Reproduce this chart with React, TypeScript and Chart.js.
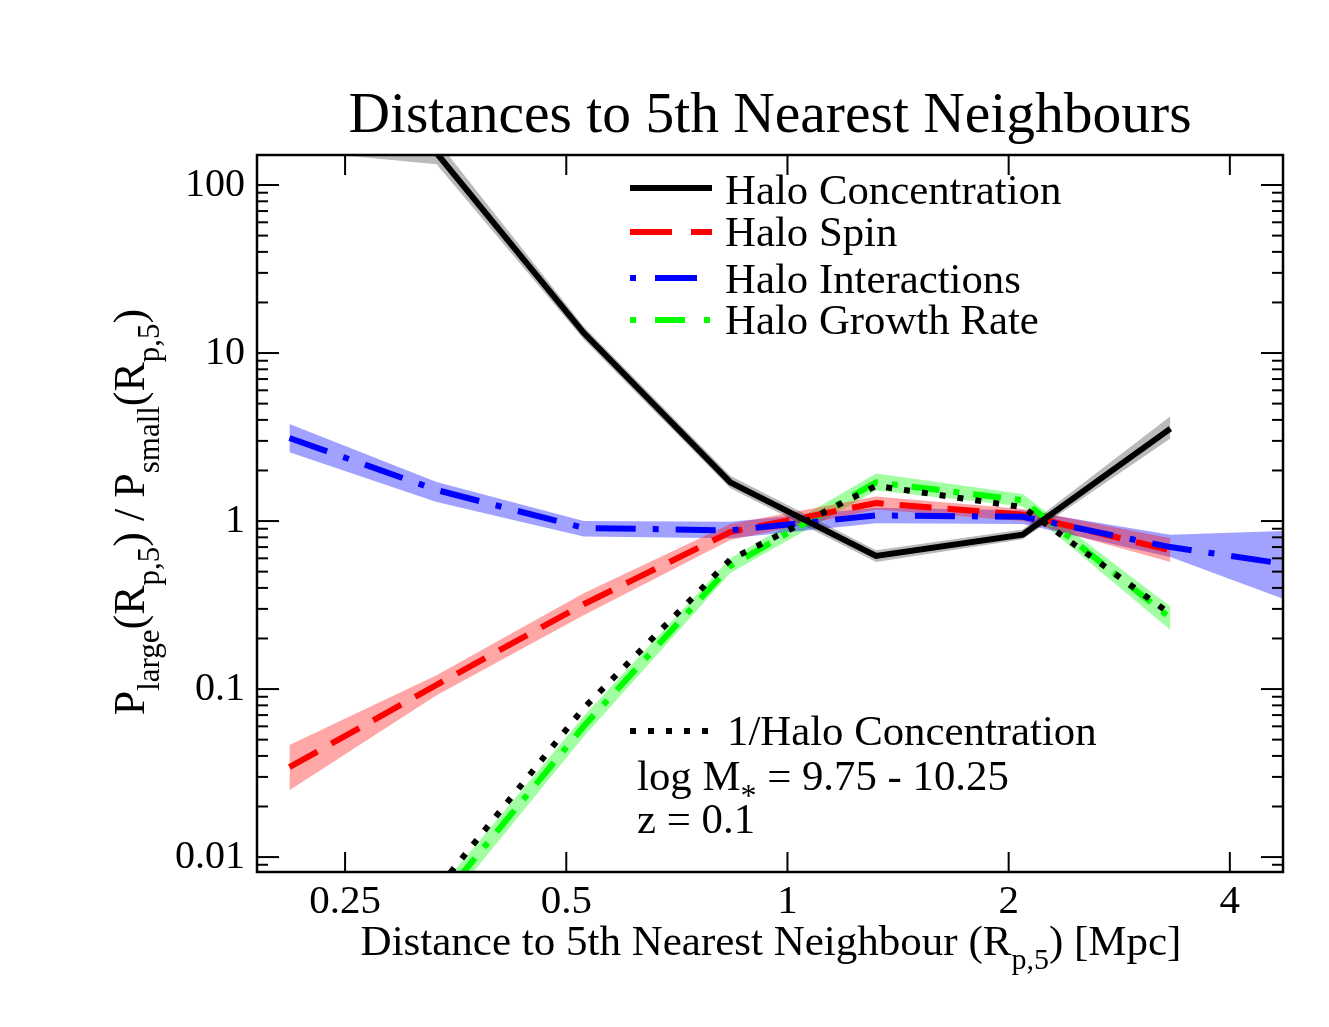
import React, { useEffect, useRef } from 'react';
import { Chart, registerables } from 'chart.js';

Chart.register(...registerables);

// x positions of the bins (Mpc)
const xValues = [0.21, 0.333, 0.528, 0.836, 1.32, 2.09, 3.32, 5.26];

// Halo Concentration (black) with its band
const concLine = [350, 155, 13.2, 1.7, 0.62, 0.83, 3.55];
const concUpper = [500, 185, 14.4, 1.86, 0.67, 0.89, 4.2];
const concLower = [161, 133, 12.1, 1.57, 0.57, 0.78, 3.1];

// Halo Spin (red)
const spinLine = [0.0343, 0.106, 0.32, 0.86, 1.28, 1.09, 0.67];
const spinUpper = [0.0465, 0.121, 0.372, 0.96, 1.4, 1.18, 0.79];
const spinLower = [0.025, 0.092, 0.275, 0.77, 1.17, 1.0, 0.57];

// Halo Interactions (blue)
const interLine = [3.12, 1.53, 0.91, 0.88, 1.08, 1.06, 0.7, 0.52];
const interUpper = [3.78, 1.71, 1.0, 0.99, 1.2, 1.16, 0.83, 0.885];
const interLower = [2.57, 1.3, 0.81, 0.79, 0.97, 0.96, 0.61, 0.29];

// Halo Growth Rate (green)
const growthLine = [0.0006, 0.0052, 0.06, 0.54, 1.7, 1.33, 0.265];
const growthUpper = [0.0008, 0.0062, 0.069, 0.6, 1.92, 1.45, 0.31];
const growthLower = [0.0004, 0.0044, 0.052, 0.49, 1.52, 1.22, 0.225];

// 1/Halo Concentration (black dotted)
const invConcLine = [0.0029, 0.0064, 0.077, 0.59, 1.62, 1.21, 0.28];

const xTicks = [0.25, 0.5, 1, 2, 4];
const yTicks = [0.01, 0.1, 1, 10, 100];

const SERIF = "'Liberation Serif', 'Times New Roman', serif";

function pts(ys: number[]) {
  return ys.map((y, i) => ({ x: xValues[i], y }));
}

type Part = { t: string; sub?: boolean };

// draws text with subscripts, centred on x
function richText(ctx: any, parts: Part[], x: number, y: number, size: number, subSize: number, subDrop: number, align = 'center') {
  let total = 0;
  const widths = parts.map((p) => {
    ctx.font = `${p.sub ? subSize : size}px ${SERIF}`;
    const w = ctx.measureText(p.t).width;
    total += w;
    return w;
  });
  let cx = align === 'center' ? x - total / 2 : x;
  ctx.textAlign = 'left';
  ctx.textBaseline = 'alphabetic';
  parts.forEach((p, i) => {
    ctx.font = `${p.sub ? subSize : size}px ${SERIF}`;
    ctx.fillText(p.t, cx, p.sub ? y + subDrop : y);
    cx += widths[i];
  });
}

function sample(ctx: any, y: number, color: string, dash: number[]) {
  ctx.save();
  ctx.strokeStyle = color;
  ctx.lineWidth = 6;
  ctx.lineCap = 'butt';
  ctx.setLineDash(dash);
  ctx.beginPath();
  ctx.moveTo(630, y);
  ctx.lineTo(712, y);
  ctx.stroke();
  ctx.restore();
}

const framePlugin = {
  id: 'frameTicks',
  afterDraw(chart: any) {
    const { ctx, chartArea: a, scales } = chart;
    ctx.save();
    ctx.strokeStyle = '#000';
    ctx.lineWidth = 2;
    const seg = (x1: number, y1: number, x2: number, y2: number) => {
      ctx.beginPath();
      ctx.moveTo(x1, y1);
      ctx.lineTo(x2, y2);
      ctx.stroke();
    };
    for (const v of xTicks) {
      const px = scales.x.getPixelForValue(v);
      seg(px, a.bottom, px, a.bottom - 20);
      seg(px, a.top, px, a.top + 20);
    }
    const yMin = scales.y.min;
    const yMax = scales.y.max;
    for (let d = 0.001; d <= 100; d *= 10) {
      for (let m = 1; m <= 9; m++) {
        const v = m * d;
        if (v < yMin || v > yMax) continue;
        const py = scales.y.getPixelForValue(v);
        const len = m === 1 ? 22 : 11;
        seg(a.left, py, a.left + len, py);
        seg(a.right, py, a.right - len, py);
      }
    }
    ctx.lineWidth = 2.5;
    ctx.strokeRect(a.left, a.top, a.right - a.left, a.bottom - a.top);
    ctx.restore();
  },
};

const textPlugin = {
  id: 'texts',
  afterDraw(chart: any) {
    const { ctx } = chart;
    ctx.save();
    ctx.fillStyle = '#000';

    // title
    ctx.font = `57.5px ${SERIF}`;
    ctx.textAlign = 'center';
    ctx.textBaseline = 'alphabetic';
    ctx.fillText('Distances to 5th Nearest Neighbours', 770, 132);

    // x axis title
    richText(ctx, [
      { t: 'Distance to 5th Nearest Neighbour (R' },
      { t: 'p,5', sub: true },
      { t: ') [Mpc]' },
    ], 771, 955, 43, 30, 14);

    // y axis title
    ctx.save();
    ctx.translate(144, 512);
    ctx.rotate(-Math.PI / 2);
    richText(ctx, [
      { t: 'P' },
      { t: 'large', sub: true },
      { t: '(R' },
      { t: 'p,5', sub: true },
      { t: ') / P' },
      { t: 'small', sub: true },
      { t: '(R' },
      { t: 'p,5', sub: true },
      { t: ')' },
    ], 0, 0, 44, 31, 15);
    ctx.restore();

    // legend
    sample(ctx, 188, '#000', []);
    sample(ctx, 232, '#ff0000', [42, 19]);
    sample(ctx, 278, '#0000ff', [6, 19, 42, 19]);
    sample(ctx, 320, '#00ff00', [6, 19, 30, 19]);
    ctx.font = `42.8px ${SERIF}`;
    ctx.textAlign = 'left';
    ctx.fillText('Halo Concentration', 725, 204);
    ctx.fillText('Halo Spin', 725, 246);
    ctx.fillText('Halo Interactions', 725, 293);
    ctx.fillText('Halo Growth Rate', 725, 334);

    // inverse concentration key and sample info
    sample(ctx, 731, '#000', [6, 12]);
    ctx.font = `42.8px ${SERIF}`;
    ctx.fillText('1/Halo Concentration', 727, 745);
    richText(ctx, [
      { t: 'log M' },
      { t: '*', sub: true },
      { t: ' = 9.75 - 10.25' },
    ], 637, 790, 42.8, 32, 16, 'left');
    ctx.font = `42.8px ${SERIF}`;
    ctx.fillText('z = 0.1', 637, 833);
    ctx.restore();
  },
};

export default function App() {
  const canvasRef = useRef<HTMLCanvasElement>(null);

  useEffect(() => {
    document.body.style.margin = '0';
    if (!canvasRef.current) return;

    const line = (data: number[], color: string, dash: number[], order: number) => ({
      data: pts(data),
      borderColor: color,
      borderWidth: 6,
      borderDash: dash,
      borderCapStyle: 'butt',
      pointRadius: 0,
      fill: false,
      clip: 0,
      order,
    });
    const bandTop = (data: number[], color: string) => ({
      data: pts(data),
      borderWidth: 0,
      pointRadius: 0,
      backgroundColor: color,
      fill: '+1',
      clip: 0,
      order: 20,
    });
    const bandBottom = (data: number[]) => ({
      data: pts(data),
      borderWidth: 0,
      pointRadius: 0,
      fill: false,
      clip: 0,
      order: 20,
    });

    const chart = new Chart(canvasRef.current, {
      type: 'line',
      data: {
        datasets: [
          line(invConcLine, '#000000', [6, 12], 1),
          line(concLine, '#000000', [], 2),
          line(interLine, '#0000ff', [40, 17, 6, 17], 3),
          line(spinLine, '#ff0000', [32, 16], 4),
          line(growthLine, '#00ff00', [28, 14, 6, 14], 5),
          bandTop(concUpper, 'rgba(0,0,0,0.27)'),
          bandBottom(concLower),
          bandTop(spinUpper, 'rgba(255,0,0,0.35)'),
          bandBottom(spinLower),
          bandTop(interUpper, 'rgba(0,0,255,0.37)'),
          bandBottom(interLower),
          bandTop(growthUpper, 'rgba(0,255,0,0.37)'),
          bandBottom(growthLower),
        ] as any,
      },
      options: {
        animation: false,
        responsive: false,
        devicePixelRatio: 1,
        layout: { padding: { top: 155, right: 46, left: 0, bottom: 0 } },
        plugins: {
          legend: { display: false },
          tooltip: { enabled: false },
          title: { display: false },
        },
        scales: {
          x: {
            type: 'logarithmic',
            min: 0.1897,
            max: 4.725,
            border: { display: false },
            grid: { display: false, drawTicks: false },
            afterBuildTicks: (scale: any) => {
              scale.ticks = xTicks.map((v) => ({ value: v }));
            },
            afterFit: (scale: any) => {
              scale.height = 155;
            },
            ticks: {
              autoSkip: false,
              maxRotation: 0,
              padding: 6,
              color: '#000',
              font: { family: SERIF, size: 41 },
              callback: (v: any) => String(v),
            },
          },
          y: {
            type: 'logarithmic',
            min: 0.00815,
            max: 150.9,
            border: { display: false },
            grid: { display: false, drawTicks: false },
            afterBuildTicks: (scale: any) => {
              scale.ticks = yTicks.map((v) => ({ value: v }));
            },
            afterFit: (scale: any) => {
              scale.width = 257;
            },
            ticks: {
              autoSkip: false,
              padding: 12,
              color: '#000',
              font: { family: SERIF, size: 40 },
              callback: (v: any) => String(v),
            },
          },
        },
      } as any,
      plugins: [framePlugin, textPlugin],
    });

    return () => {
      chart.destroy();
    };
  }, []);

  return (
    <div style={{ width: 1329, height: 1027, background: '#fff' }}>
      <canvas ref={canvasRef} width={1329} height={1027} style={{ display: 'block' }}></canvas>
    </div>
  );
}
